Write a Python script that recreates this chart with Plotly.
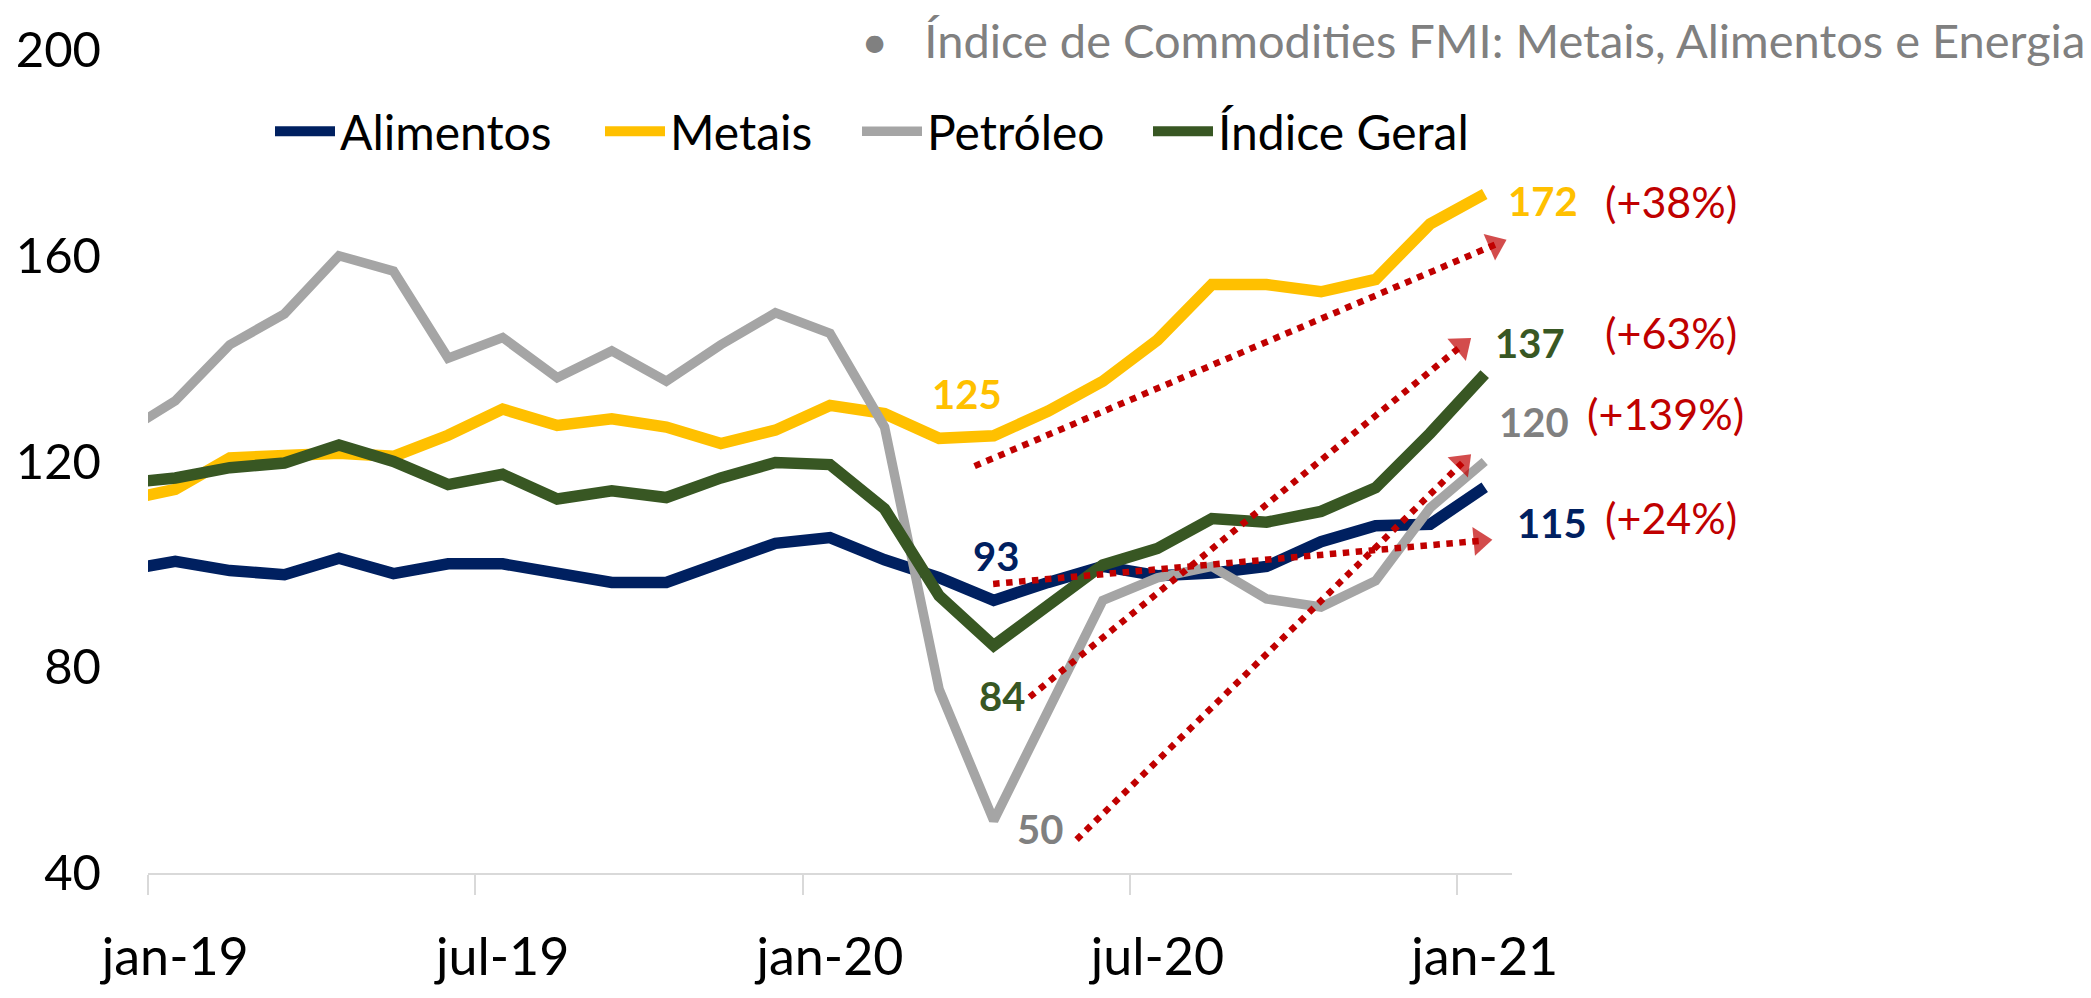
import plotly.graph_objects as go

# ---------------- data ----------------
months = ["dez-18", "jan-19", "fev-19", "mar-19", "abr-19", "mai-19", "jun-19", "jul-19",
          "ago-19", "set-19", "out-19", "nov-19", "dez-19", "jan-20", "fev-20", "mar-20",
          "abr-20", "mai-20", "jun-20", "jul-20", "ago-20", "set-20", "out-20", "nov-20",
          "dez-20", "jan-21"]

alimentos = [98.7, 100.6, 98.8, 98.0, 101.2, 98.2, 100.1, 100.1, 98.3, 96.5, 96.5, 100.3, 104.1,
             105.2, 100.9, 97.4, 93.0, 96.5, 99.6, 97.8, 98.3, 99.6, 104.4, 107.5, 107.8, 115.0]
metais = [112.3, 114.6, 120.7, 121.0, 121.6, 121.0, 125.1, 130.2, 127.0, 128.3, 126.7, 123.5, 126.1,
          130.9, 129.3, 124.5, 125.0, 129.8, 135.6, 143.6, 154.4, 154.4, 153.0, 155.4, 166.2, 172.0]
petroleo = [125.2, 131.8, 142.7, 148.7, 160.0, 157.0, 140.1, 144.1, 136.3, 141.5, 135.6, 142.7, 148.9,
            144.9, 126.7, 75.7, 50.2, 72.0, 93.0, 97.4, 99.6, 93.3, 91.7, 96.8, 111.0, 120.0]
indice_geral = [115.7, 116.8, 118.8, 119.7, 123.2, 120.0, 115.5, 117.5, 112.7, 114.3, 113.0, 116.8, 119.8,
                119.4, 110.8, 93.9, 84.2, 92.0, 99.9, 103.1, 108.9, 108.2, 110.3, 114.9, 125.5, 137.0]

tick_months = ["jan-19", "jul-19", "jan-20", "jul-20", "jan-21"]
y_ticks = [40, 80, 120, 160, 200]
trough_month = "abr-20"

title_text = "•   Índice de Commodities FMI: Metais, Alimentos e Energia"

# trend arrows (start month-index, start value, tip month-index, tip value)
trend_arrows = [
    (14.65, 119.1, 24.40, 163.1),   # Metais
    (15.66, 74.2, 23.75, 144.0),    # Índice Geral
    (16.52, 46.5, 23.75, 121.4),    # Petróleo
    (14.99, 96.2, 24.14, 104.8),    # Alimentos
]

# ---------------- styling ----------------
FONT = "Lato"
series = [
    dict(name="Alimentos", y=alimentos, color="#002060", width=11.5, lab_color="#002060",
         trough_shift=(2, 44), end_shift=(67, -36), pct_shift=(186, -30), leg_x=270),
    dict(name="Metais", y=metais, color="#FFC000", width=11.5, lab_color="#FFC000",
         trough_shift=(-27, 42), end_shift=(58, -7), pct_shift=(186, -7), leg_x=600),
    dict(name="Petróleo", y=petroleo, color="#A5A5A5", width=9.5, lab_color="#808080",
         trough_shift=(46, -8), end_shift=(49, 40), pct_shift=(181, 48), leg_x=857),
    dict(name="Índice Geral", y=indice_geral, color="#385723", width=11.5, lab_color="#385723",
         trough_shift=(8, -50), end_shift=(45, 31), pct_shift=(186, 42), leg_x=1148),
]

W, H = 2091, 998
ML, MR, MT, MB = 148, 579, 50, 111
x_idx = [i - 1 for i in range(len(months))]  # jan-19 -> 0
x_range = [-0.5, len(months) - 1.5]
y_range = [y_ticks[0], y_ticks[-1]]
plot_w = W - ML - MR
plot_h = H - MT - MB
px_x = plot_w / (x_range[1] - x_range[0])
px_y = plot_h / (y_range[1] - y_range[0])

fig = go.Figure()

legend_layouts = {}
for k, s in enumerate(series):
    lg = "legend" if k == 0 else f"legend{k + 1}"
    fig.add_trace(go.Scatter(
        x=x_idx, y=s["y"], name=s["name"], mode="lines",
        line=dict(color=s["color"], width=s["width"]),
        hoverinfo="skip", legend=lg,
    ))
    legend_layouts[lg] = dict(
        orientation="h", x=(s["leg_x"] - ML) / plot_w, xanchor="left",
        y=(H - MB - 133) / plot_h, yanchor="middle",
        font=dict(family=FONT, size=48, color="black"),
        bgcolor="rgba(0,0,0,0)", itemwidth=60)

# dotted trend arrows
ARROW_RED = "#C00000"
head_size = 25
for (x0, y0, x1, y1) in trend_arrows:
    dx_px = (x1 - x0) * px_x
    dy_px = (y1 - y0) * px_y
    L = (dx_px ** 2 + dy_px ** 2) ** 0.5
    back = head_size / 2.0
    xc = x1 - (dx_px / L) * back / px_x
    yc = y1 - (dy_px / L) * back / px_y
    fig.add_trace(go.Scatter(
        x=[x0, xc], y=[y0, yc], mode="lines+markers", showlegend=False, hoverinfo="skip",
        line=dict(color=ARROW_RED, width=6.5, dash="dot"),
        marker=dict(symbol=["circle", "triangle-up"], size=[0, head_size], color=ARROW_RED,
                    angleref="previous", line=dict(width=0)),
        cliponaxis=False,
    ))

# value labels
ti = months.index(trough_month)
last = len(months) - 1
for s in series:
    v_tr = s["y"][ti]
    v_end = s["y"][last]
    fig.add_annotation(x=x_idx[ti], y=v_tr, text=f"<b>{round(v_tr)}</b>", showarrow=False,
                       xshift=s["trough_shift"][0], yshift=s["trough_shift"][1],
                       font=dict(family=FONT, size=40, color=s["lab_color"]))
    fig.add_annotation(x=x_idx[last], y=v_end, text=f"<b>{round(v_end)}</b>", showarrow=False,
                       xshift=s["end_shift"][0], yshift=s["end_shift"][1],
                       font=dict(family=FONT, size=40, color=s["lab_color"]))
    pct = round((v_end / v_tr - 1) * 100)
    fig.add_annotation(x=x_idx[last], y=v_end, text=f"(+{pct}%)", showarrow=False,
                       xshift=s["pct_shift"][0], yshift=s["pct_shift"][1],
                       font=dict(family=FONT, size=43, color=ARROW_RED))

# title
fig.add_annotation(xref="paper", yref="paper", x=(2087 - ML) / plot_w, y=(H - MB - 40) / plot_h,
                   xanchor="right", yanchor="middle", text=title_text, showarrow=False,
                   font=dict(family=FONT, size=47, color="#808080"))

tickvals = [x_idx[months.index(m)] for m in tick_months]
fig.update_layout(
    width=W, height=H,
    margin=dict(l=ML, r=MR, t=MT, b=MB, pad=0),
    paper_bgcolor="white", plot_bgcolor="white",
    font=dict(family=FONT, color="black"),
    showlegend=True,
    xaxis=dict(range=x_range, tickmode="array", tickvals=tickvals, ticktext=tick_months,
               ticks="", showgrid=False, zeroline=False,
               showline=True, linecolor="#D9D9D9", linewidth=2,
               tickfont=dict(family=FONT, size=52, color="black"),
               ticklabelstandoff=38,
               minor=dict(tickvals=[t - 0.5 for t in tickvals], ticks="outside", ticklen=20,
                          tickcolor="#D9D9D9", tickwidth=2, showgrid=False)),
    yaxis=dict(range=y_range, tickmode="array", tickvals=y_ticks, ticks="", showgrid=False,
               zeroline=False, showline=False,
               tickfont=dict(family=FONT, size=49, color="black"),
               ticklabelstandoff=46),
    **legend_layouts,
)

fig.write_html("out.html", config={"displayModeBar": False},
               post_script="document.body.style.margin='0';document.body.style.overflow='hidden';")
